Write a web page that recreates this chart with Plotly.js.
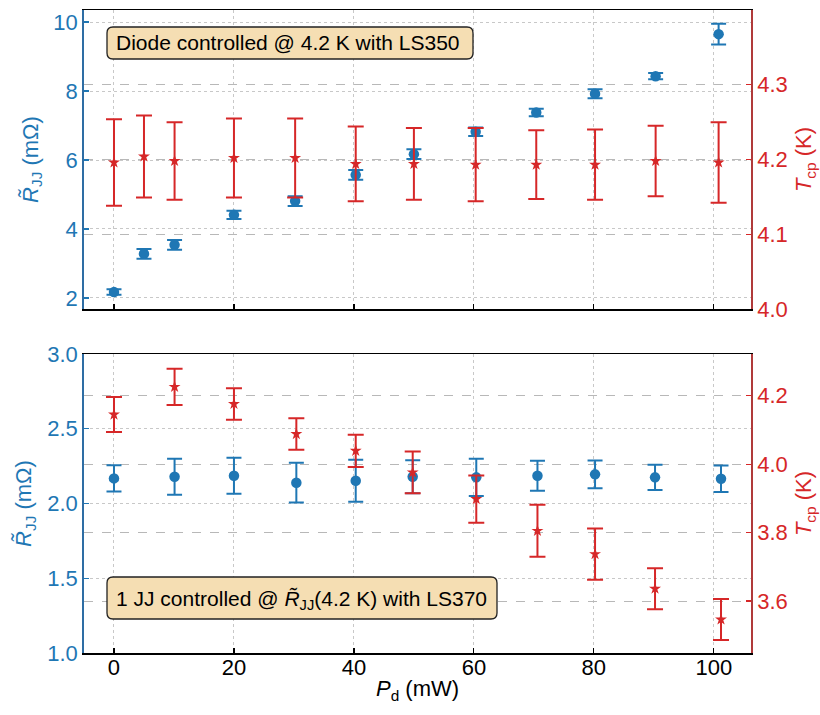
<!DOCTYPE html>
<html>
<head>
<meta charset="utf-8">
<script src="https://cdn.plot.ly/plotly-3.0.1.min.js"></script>
<style>html,body{margin:0;padding:0;background:#fff;}#chart{width:820px;height:715px;}</style>
</head>
<body>
<div id="chart"></div>
<script>
// ---- data ----
const pdTop = [0, 5, 10.1, 20, 30.2, 40.3, 50, 60.3, 70.4, 80.2, 90.3, 100.8];
const rjjTop = [2.17, 3.28, 3.54, 4.41, 4.81, 5.57, 6.17, 6.82, 7.38, 7.92, 8.43, 9.65];
const rjjTopErr = [0.08, 0.14, 0.14, 0.12, 0.14, 0.14, 0.14, 0.12, 0.11, 0.13, 0.09, 0.30];
const tcpTop = [4.196, 4.204, 4.198, 4.202, 4.202, 4.194, 4.194, 4.193, 4.193, 4.193, 4.198, 4.196];
const tcpTopErr = [0.058, 0.055, 0.052, 0.053, 0.053, 0.050, 0.048, 0.049, 0.046, 0.047, 0.047, 0.054];

const pdBot = [0, 10.1, 20, 30.4, 40.3, 49.8, 60.4, 70.6, 80.2, 90.2, 101.2];
const rjjBot = [2.168, 2.179, 2.186, 2.139, 2.152, 2.179, 2.175, 2.186, 2.195, 2.175, 2.166];
const rjjBotErr = [0.088, 0.12, 0.12, 0.133, 0.14, 0.11, 0.125, 0.10, 0.093, 0.085, 0.089];
const tcpBot = [4.145, 4.226, 4.176, 4.088, 4.039, 3.976, 3.898, 3.805, 3.737, 3.636, 3.546];
const tcpBotErr = [0.051, 0.053, 0.046, 0.046, 0.047, 0.061, 0.069, 0.076, 0.075, 0.060, 0.060];

const xTicks = [0, 20, 40, 60, 80, 100];
const topLabel = 'Diode controlled @ 4.2 K with LS350';
const botLabel = '1 JJ controlled @ <i>R̃</i><sub>JJ</sub>(4.2 K) with LS370';
const xTitle = '<i>P</i><sub>d</sub> (mW)';

// ---- style ----
const BLUE = '#1f77b4', RED = '#d62728';
const FONT = 'Liberation Sans, Arial, Helvetica, sans-serif';
const FS = 21, TFS = 22, AFS = 22;
const W = 820, H = 715, ML = 84, MR = 69, MT = 10, MB = 62;
const PW = W - ML - MR, PH = H - MT - MB;
const px = v => (v - ML) / PW;
const py = v => (H - MB - v) / PH;

function roundRect(x0, y0, x1, y1, r) {
  const X = px, Y = py;
  return 'M' + X(x0 + r) + ',' + Y(y0) +
    ' L' + X(x1 - r) + ',' + Y(y0) +
    ' Q' + X(x1) + ',' + Y(y0) + ' ' + X(x1) + ',' + Y(y0 + r) +
    ' L' + X(x1) + ',' + Y(y1 - r) +
    ' Q' + X(x1) + ',' + Y(y1) + ' ' + X(x1 - r) + ',' + Y(y1) +
    ' L' + X(x0 + r) + ',' + Y(y1) +
    ' Q' + X(x0) + ',' + Y(y1) + ' ' + X(x0) + ',' + Y(y1 - r) +
    ' L' + X(x0) + ',' + Y(y0 + r) +
    ' Q' + X(x0) + ',' + Y(y0) + ' ' + X(x0 + r) + ',' + Y(y0) + ' Z';
}

function blueTrace(x, y, e, xa, ya) {
  return {x: x, y: y, xaxis: xa, yaxis: ya, type: 'scatter', mode: 'markers',
    marker: {color: BLUE, size: 10.5, symbol: 'circle'},
    error_y: {type: 'data', array: e, visible: true, color: BLUE, thickness: 2, width: 7.5},
    showlegend: false, hoverinfo: 'x+y'};
}
function redTrace(x, y, e, xa, ya) {
  return {x: x, y: y, xaxis: xa, yaxis: ya, type: 'scatter', mode: 'markers',
    marker: {color: RED, size: 9, symbol: 'star'},
    error_y: {type: 'data', array: e, visible: true, color: RED, thickness: 2, width: 8},
    showlegend: false, hoverinfo: 'x+y'};
}

const data = [
  blueTrace(pdTop, rjjTop, rjjTopErr, 'x', 'y'),
  redTrace(pdTop, tcpTop, tcpTopErr, 'x', 'y2'),
  blueTrace(pdBot, rjjBot, rjjBotErr, 'x2', 'y3'),
  redTrace(pdBot, tcpBot, tcpBotErr, 'x2', 'y4')
];

const xCommon = {
  range: [-5, 106.2], tickvals: xTicks, ticks: 'inside', ticklen: 5, tickwidth: 1.2,
  tickcolor: '#000', showline: true, linecolor: '#000', linewidth: 1.5, mirror: true,
  showgrid: true, gridcolor: '#c8c8c8', griddash: 'dot', gridwidth: 1, zeroline: false,
  tickfont: {family: FONT, size: TFS, color: '#000'}, ticklabelstandoff: -6
};
const yLeftCommon = {
  side: 'left', ticks: 'inside', ticklen: 5, tickwidth: 1.2, tickcolor: BLUE,
  showline: true, linecolor: '#2e6da4', linewidth: 1.8,
  showgrid: true, gridcolor: '#c8c8c8', griddash: 'dot', gridwidth: 1, zeroline: false,
  tickfont: {family: FONT, size: TFS, color: BLUE},
  title: {text: '<i>R̃</i><sub>JJ</sub> (mΩ)', font: {family: FONT, size: AFS, color: BLUE}, standoff: 9}
};
const yRightCommon = {
  side: 'right', ticks: 'inside', ticklen: 5, tickwidth: 1.2, tickcolor: RED,
  showline: true, linecolor: '#b03a3a', linewidth: 1.8, tickformat: '.1f',
  showgrid: true, gridcolor: '#b8b8b8', griddash: 'dash', gridwidth: 1, zeroline: false,
  tickfont: {family: FONT, size: TFS, color: RED},
  title: {text: '<i>T</i><sub>cp</sub> (K)', font: {family: FONT, size: AFS, color: RED}, standoff: 9}
};

const layout = {
  width: W, height: H,
  margin: {l: ML, r: MR, t: MT, b: MB},
  paper_bgcolor: '#fff', plot_bgcolor: 'rgba(0,0,0,0)',
  font: {family: FONT, size: FS, color: '#000'},
  showlegend: false,
  xaxis: Object.assign({}, xCommon, {anchor: 'y', showticklabels: false}),
  xaxis2: Object.assign({}, xCommon, {anchor: 'y3'}),
  yaxis: Object.assign({}, yLeftCommon, {domain: [py(309), 1], anchor: 'x', range: [1.68, 10.35], tickvals: [2, 4, 6, 8, 10]}),
  yaxis2: Object.assign({}, yRightCommon, {domain: [py(309), 1], anchor: 'x', overlaying: 'y', range: [4.0, 4.4], tickvals: [4.0, 4.1, 4.2, 4.3, 4.4]}),
  yaxis3: Object.assign({}, yLeftCommon, {domain: [0, py(354)], anchor: 'x2', range: [1.0, 3.0], tickvals: [1.0, 1.5, 2.0, 2.5, 3.0], tickformat: '.1f'}),
  yaxis4: Object.assign({}, yRightCommon, {domain: [0, py(354)], anchor: 'x2', overlaying: 'y3', range: [3.448, 4.322], tickvals: [3.6, 3.8, 4.0, 4.2]}),
  shapes: [
    {type: 'path', xref: 'paper', yref: 'paper', path: roundRect(107, 27, 473, 59, 6),
      fillcolor: '#f5deb3', line: {color: '#222', width: 1.3}, layer: 'above'},
    {type: 'path', xref: 'paper', yref: 'paper', path: roundRect(107, 577, 497, 619, 6),
      fillcolor: '#f5deb3', line: {color: '#222', width: 1.3}, layer: 'above'}
  ],
  annotations: [
    {xref: 'paper', yref: 'paper', x: px(114), y: py(43), xanchor: 'left', yanchor: 'middle',
      text: topLabel, showarrow: false, font: {family: FONT, size: FS, color: '#000'}},
    {xref: 'paper', yref: 'paper', x: px(114), y: py(600), xanchor: 'left', yanchor: 'middle',
      text: botLabel, showarrow: false, font: {family: FONT, size: FS, color: '#000'}},
    {xref: 'paper', yref: 'paper', x: 0.5, y: py(690), xanchor: 'center', yanchor: 'middle',
      text: xTitle, showarrow: false, font: {family: FONT, size: AFS, color: '#000'}}
  ]
};

Plotly.newPlot('chart', data, layout, {displayModeBar: false, staticPlot: true});
</script>
</body>
</html>
